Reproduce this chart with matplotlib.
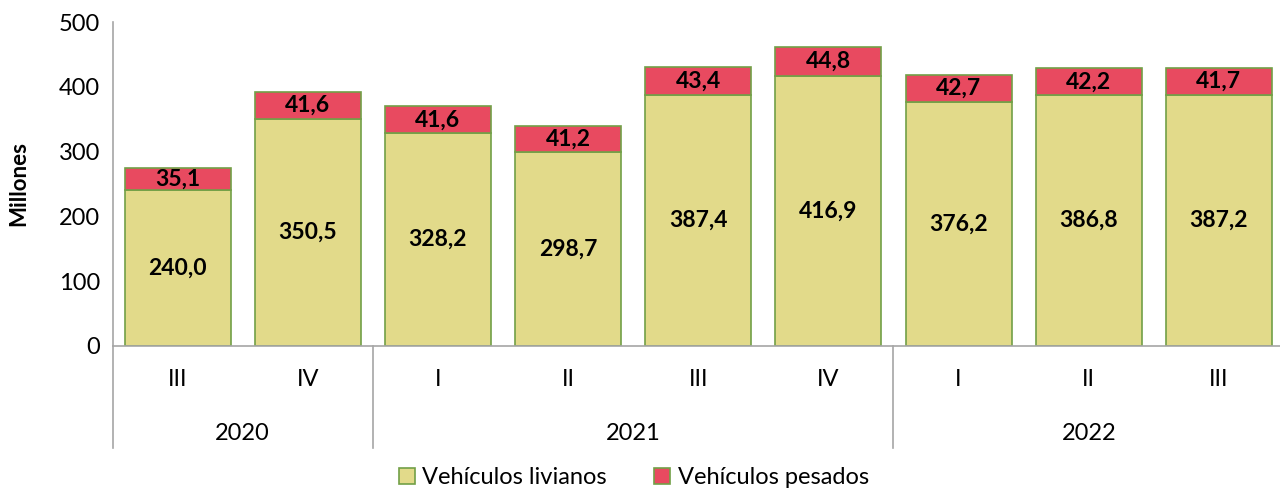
import matplotlib.pyplot as plt
import numpy as np

# data
quarters = ['III', 'IV', 'I', 'II', 'III', 'IV', 'I', 'II', 'III']
years = ['2020', '2021', '2022']
year_counts = [2, 4, 3]
livianos = [240.0, 350.5, 328.2, 298.7, 387.4, 416.9, 376.2, 386.8, 387.2]
pesados = [35.1, 41.6, 41.6, 41.2, 43.4, 44.8, 42.7, 42.2, 41.7]

plt.rcParams['font.family'] = ['Lato', 'DejaVu Sans']

fig = plt.figure(figsize=(12.8, 4.9), dpi=100)
ax = fig.add_axes([0.0879, 0.294, 0.9152, 0.661])

x = np.arange(len(quarters))
col_liv = '#E2DA8A'
col_pes = '#E84A60'
edge = '#72A047'

b1 = ax.bar(x, livianos, width=0.815, color=col_liv, edgecolor=edge, linewidth=1.2,
            label='Vehículos livianos')
b2 = ax.bar(x, pesados, width=0.815, bottom=livianos, color=col_pes, edgecolor=edge,
            linewidth=1.2, label='Vehículos pesados')

def fmt(v):
    return f'{v:.1f}'.replace('.', ',')

for i in range(len(x)):
    ax.text(x[i], livianos[i] / 2, fmt(livianos[i]), ha='center', va='center',
            fontsize=16.5, fontweight='bold')
    ax.text(x[i], livianos[i] + pesados[i] / 2, fmt(pesados[i]), ha='center', va='center',
            fontsize=16.5, fontweight='bold')

ax.set_xlim(-0.5, len(x) - 0.5)
ax.set_ylim(0, 500)
ax.set_yticks([0, 100, 200, 300, 400, 500])
ax.tick_params(axis='y', length=0, labelsize=17, pad=9)
ax.tick_params(axis='x', length=0)
ax.set_xticks([])
ax.set_ylabel('Millones', fontsize=16, fontweight='bold')
ax.yaxis.set_label_coords(-0.071, 0.5)

for s in ['top', 'right']:
    ax.spines[s].set_visible(False)
ax.spines['left'].set_color('#A6A6A6')
ax.spines['bottom'].set_color('#A6A6A6')
ax.spines['left'].set_linewidth(1.2)
ax.spines['bottom'].set_linewidth(1.2)

# multi-level category axis
trans = ax.get_xaxis_transform()
for i, q in enumerate(quarters):
    ax.text(x[i], -0.105, q, transform=trans, ha='center', va='center', fontsize=17)

pos = -0.5
bounds = [pos]
for name, n in zip(years, year_counts):
    ax.text(pos + n / 2, -0.27, name, transform=trans, ha='center', va='center', fontsize=17)
    pos += n
    bounds.append(pos)
for b in bounds[:-1]:
    ax.plot([b, b], [0, -0.315], transform=trans, color='#A6A6A6', linewidth=1.2,
            clip_on=False)

fig.legend(handles=[b1, b2], loc='center', bbox_to_anchor=(0.495, 0.025), ncol=2,
           frameon=False, fontsize=17, handlelength=0.7, handleheight=0.7,
           handletextpad=0.3, columnspacing=2.0)

plt.savefig('out.png', dpi=100)
